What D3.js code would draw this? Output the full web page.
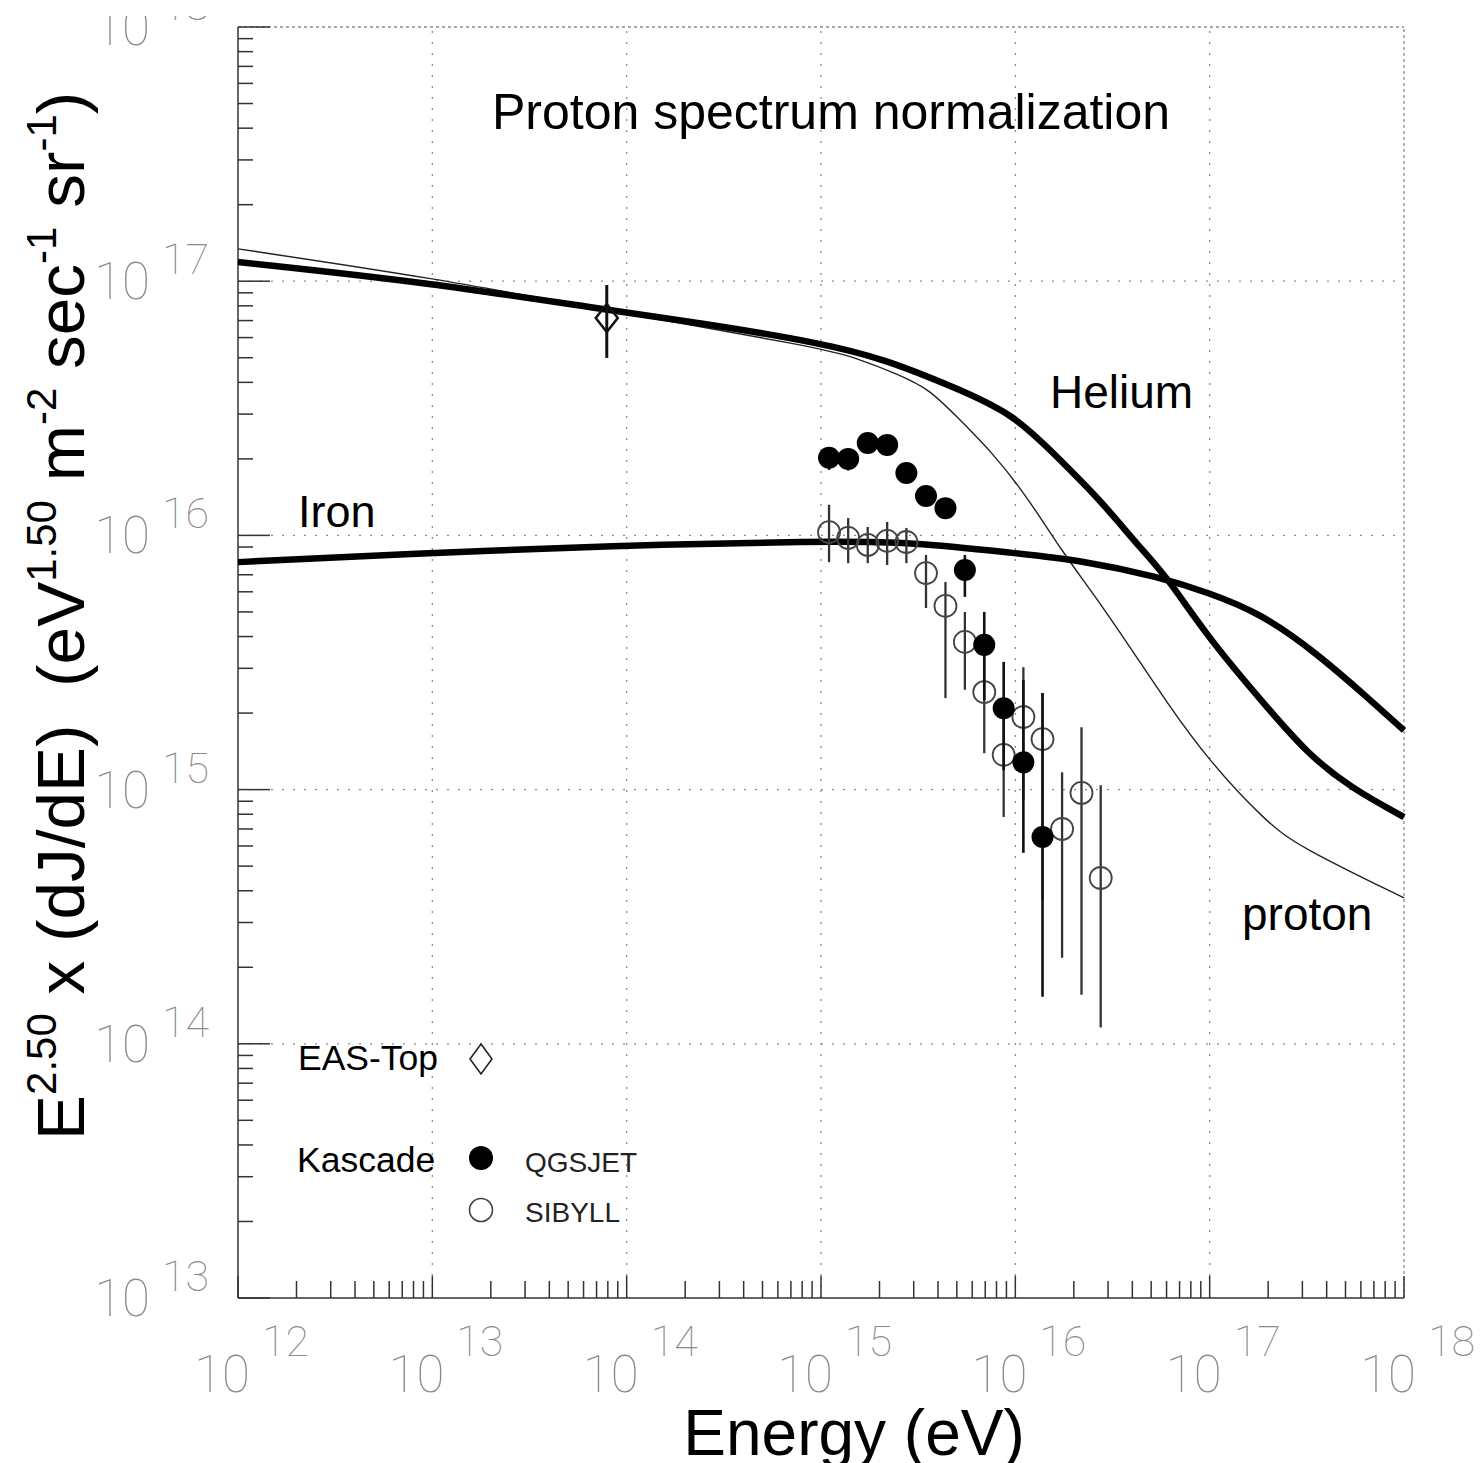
<!DOCTYPE html>
<html>
<head>
<meta charset="utf-8">
<script src="https://cdn.jsdelivr.net/npm/d3@7"></script>
<style>
body { margin: 0; background: #fff; }
svg { display: block; }
text { font-family: "Liberation Sans", Arial, sans-serif; white-space: pre; }
.tl { font-family: Roboto, "DejaVu Sans", sans-serif; font-weight: 100; fill: #8a8a8a; }
</style>
</head>
<body>
<svg id="chart" width="1482" height="1463"></svg>
<script>
// decades used for ticks, grid and labels
var xDecades = [1e12, 1e13, 1e14, 1e15, 1e16, 1e17, 1e18];
var yDecades = [1e13, 1e14, 1e15, 1e16, 1e17, 1e18];

// model curves, E (eV) vs E^2.5 dJ/dE
var protonE    = [1e12, 1e13, 7.8e13, 1e15, 1.46e15, 2.55e15, 3.64e15, 4.78e15, 7.67e15, 1.15e16, 1.76e16, 2.51e16, 3.89e16, 6.04e16, 9.8e16, 1.97e17, 2.92e17, 1e18];
var protonFlux = [1.34e17, 1.03e17, 7.71e16, 5.46e16, 5.04e16, 4.28e16, 3.73e16, 3.03e16, 2.11e16, 1.42e16, 8.53e15, 5.93e15, 3.64e15, 2.19e15, 1.31e15, 7.4e14, 5.94e14, 3.75e14];

var heliumE    = [1e12, 1e13, 7.8e13, 2.38e14, 1e15, 2.19e15, 4.78e15, 9.72e15, 1.7e16, 2.73e16, 4.39e16, 6.04e16, 1e17, 1.97e17, 3.17e17, 5.27e17, 1e18];
var heliumFlux = [1.19e17, 9.84e16, 7.71e16, 6.86e16, 5.72e16, 4.9e16, 3.84e16, 3.03e16, 1.98e16, 1.38e16, 8.92e15, 6.86e15, 3.88e15, 2.11e15, 1.39e15, 1.02e15, 7.8e14];

var ironE    = [1e12, 1e13, 7.8e13, 1e15, 2.97e15, 9.72e15, 2.15e16, 5.55e16, 1e17, 1.82e17, 3.56e17, 6.46e17, 1e18];
var ironFlux = [7.85e15, 8.53e15, 9.09e15, 9.51e15, 9.42e15, 8.53e15, 8.0e15, 6.86e15, 5.93e15, 4.95e15, 3.44e15, 2.31e15, 1.71e15];

// EAS-Top point
var easE = [7.9e13];
var easFlux = [7.17e16];
var easHi = [9.66e16];
var easLo = [4.99e16];

// Kascade points
var kasE = [1.10e15, 1.38e15, 1.74e15, 2.19e15, 2.75e15, 3.47e15, 4.37e15, 5.50e15, 6.92e15, 8.71e15, 1.10e16, 1.38e16, 1.74e16, 2.19e16, 2.75e16];

var qgsFlux = [2.02e16, 2.00e16, 2.31e16, 2.27e16, 1.76e16, 1.43e16, 1.28e16, 7.31e15, 3.71e15, 2.09e15, 1.28e15, 6.51e14];
var qgsHi   = [2.17e16, 2.15e16, 2.48e16, 2.44e16, 1.89e16, 1.54e16, 1.38e16, 8.38e15, 5.00e15, 3.18e15, 2.70e15, 2.40e15];
var qgsLo   = [1.81e16, 1.80e16, 2.11e16, 2.07e16, 1.64e16, 1.33e16, 1.19e16, 5.73e15, 2.25e15, 1.19e15, 5.64e14, 1.53e14];

var sibFlux = [1.03e16, 9.77e15, 9.17e15, 9.51e15, 9.42e15, 7.11e15, 5.28e15, 3.81e15, 2.42e15, 1.37e15, 1.93e15, 1.58e15, 7.00e14, 9.70e14, 4.49e14];
var sibHi   = [1.32e16, 1.17e16, 1.08e16, 1.13e16, 1.07e16, 8.38e15, 6.56e15, 5.00e15, 3.88e15, 2.25e15, 3.03e15, 2.40e15, 1.17e15, 1.76e15, 1.04e15];
var sibLo   = [7.85e15, 7.78e15, 7.78e15, 7.65e15, 7.78e15, 5.18e15, 2.29e15, 2.47e15, 1.39e15, 7.80e14, 9.10e14, 3.68e14, 2.18e14, 1.56e14, 1.16e14];

var svg = d3.select("#chart");

var x = d3.scaleLog().domain([1e12, 1e18]).range([238, 1404]);
var y = d3.scaleLog().domain([1e13, 1e18]).range([1298, 27]);

var x0 = x.range()[0], x1 = x.range()[1];
var y0 = y.range()[0], y1 = y.range()[1];

// grid
var grid = svg.append("g").attr("stroke", "#8c8c8c").attr("stroke-width", 1.3);
grid.selectAll(".gx").data(xDecades.slice(1, -1)).enter().append("line")
    .attr("x1", d => x(d)).attr("x2", d => x(d))
    .attr("y1", y0).attr("y2", y1)
    .attr("stroke-dasharray", "2,9");
grid.selectAll(".gy").data(yDecades.slice(1, -1)).enter().append("line")
    .attr("y1", d => y(d)).attr("y2", d => y(d))
    .attr("x1", x0).attr("x2", x1)
    .attr("stroke-dasharray", "2,9");
// top and right border
grid.append("line").attr("x1", x0).attr("x2", x1).attr("y1", y1).attr("y2", y1).attr("stroke-dasharray", "3,3");
grid.append("line").attr("x1", x1).attr("x2", x1).attr("y1", y0).attr("y2", y1).attr("stroke-dasharray", "3,3");

// axes lines and ticks
var ax = svg.append("g").attr("stroke", "#333").attr("stroke-width", 1.5);
ax.append("line").attr("x1", x0).attr("x2", x0).attr("y1", y0).attr("y2", y1);
ax.append("line").attr("x1", x0).attr("x2", x1).attr("y1", y0).attr("y2", y0);

var yMinor = [], xMinor = [];
yDecades.slice(0, -1).forEach(d => { for (var k = 2; k < 10; k++) yMinor.push(d * k); });
xDecades.slice(0, -1).forEach(d => { for (var k = 2; k < 10; k++) xMinor.push(d * k); });

ax.selectAll(".ym").data(yMinor).enter().append("line")
    .attr("x1", x0).attr("x2", x0 + 15)
    .attr("y1", d => y(d)).attr("y2", d => y(d));
ax.selectAll(".yM").data(yDecades).enter().append("line")
    .attr("x1", x0).attr("x2", x0 + 32)
    .attr("y1", d => y(d)).attr("y2", d => y(d));
ax.selectAll(".xm").data(xMinor).enter().append("line")
    .attr("y1", y0).attr("y2", y0 - 17)
    .attr("x1", d => x(d)).attr("x2", d => x(d));
ax.selectAll(".xM").data(xDecades).enter().append("line")
    .attr("y1", y0).attr("y2", y0 - 22)
    .attr("x1", d => x(d)).attr("x2", d => x(d));

// tick labels 10^n
var ylab = svg.append("g");
yDecades.forEach(function(d) {
    var n = Math.round(Math.log10(d));
    ylab.append("text").attr("class", "tl").attr("x", x0 - 88).attr("y", y(d) + 18)
        .attr("text-anchor", "end").style("font-size", "51px").text("10");
    ylab.append("text").attr("class", "tl").attr("x", x0 - 76).attr("y", y(d) - 7)
        .style("font-size", "43px").text(n);
});
var xlab = svg.append("g");
xDecades.forEach(function(d) {
    var n = Math.round(Math.log10(d));
    xlab.append("text").attr("class", "tl").attr("x", x(d) + 12).attr("y", y0 + 94)
        .attr("text-anchor", "end").style("font-size", "51px").text("10");
    xlab.append("text").attr("class", "tl").attr("x", x(d) + 24).attr("y", y0 + 58)
        .style("font-size", "43px").text(n);
});

// curves
var line = d3.line()
    .x(d => x(d[0]))
    .y(d => y(d[1]))
    .curve(d3.curveBasis);

svg.append("path").datum(d3.zip(protonE, protonFlux))
    .attr("d", line).attr("fill", "none").attr("stroke", "#222").attr("stroke-width", 1.4);
svg.append("path").datum(d3.zip(heliumE, heliumFlux))
    .attr("d", line).attr("fill", "none").attr("stroke", "#000").attr("stroke-width", 6.5);
svg.append("path").datum(d3.zip(ironE, ironFlux))
    .attr("d", line).attr("fill", "none").attr("stroke", "#000").attr("stroke-width", 6.5);

// EAS-Top
var eas = d3.zip(easE, easFlux, easHi, easLo);
svg.selectAll(".easbar").data(eas).enter().append("line")
    .attr("x1", d => x(d[0])).attr("x2", d => x(d[0]))
    .attr("y1", d => y(d[2])).attr("y2", d => y(d[3]))
    .attr("stroke", "#111").attr("stroke-width", 3);
var diamond = "M0,-14L11,0L0,14L-11,0Z";
svg.selectAll(".easpt").data(eas).enter().append("path")
    .attr("d", diamond)
    .attr("transform", d => `translate(${x(d[0])},${y(d[1])})`)
    .attr("fill", "none").attr("stroke", "#111").attr("stroke-width", 2.5);

// Kascade SIBYLL (open)
var sib = d3.zip(kasE, sibFlux, sibHi, sibLo);
svg.selectAll(".sibbar").data(sib).enter().append("line")
    .attr("x1", d => x(d[0])).attr("x2", d => x(d[0]))
    .attr("y1", d => y(d[2])).attr("y2", d => y(d[3]))
    .attr("stroke", "#333").attr("stroke-width", 2.3);
svg.selectAll(".sibpt").data(sib).enter().append("circle")
    .attr("cx", d => x(d[0])).attr("cy", d => y(d[1])).attr("r", 11)
    .attr("fill", "none").attr("stroke", "#444").attr("stroke-width", 1.8);

// Kascade QGSJET (filled)
var qgs = d3.zip(kasE.slice(0, qgsFlux.length), qgsFlux, qgsHi, qgsLo);
svg.selectAll(".qgsbar").data(qgs).enter().append("line")
    .attr("x1", d => x(d[0])).attr("x2", d => x(d[0]))
    .attr("y1", d => y(d[2])).attr("y2", d => y(d[3]))
    .attr("stroke", "#111").attr("stroke-width", 2.6);
svg.selectAll(".qgspt").data(qgs).enter().append("circle")
    .attr("cx", d => x(d[0])).attr("cy", d => y(d[1])).attr("r", 11)
    .attr("fill", "#000");

// curve labels and title
svg.append("text").attr("x", 492).attr("y", 129).style("font-size", "50px").text("Proton spectrum normalization");
svg.append("text").attr("x", 1050).attr("y", 408).style("font-size", "46px").text("Helium");
svg.append("text").attr("x", 298).attr("y", 527).style("font-size", "45px").text("Iron");
svg.append("text").attr("x", 1242).attr("y", 930).style("font-size", "46px").text("proton");

// legend
svg.append("text").attr("x", 298).attr("y", 1070).style("font-size", "35.5px").text("EAS-Top");
svg.append("path").attr("d", "M0,-15L11,0L0,15L-11,0Z").attr("transform", "translate(481,1059)")
    .attr("fill", "none").attr("stroke", "#222").attr("stroke-width", 1.6);
svg.append("text").attr("x", 297).attr("y", 1172).style("font-size", "35.5px").text("Kascade");
svg.append("circle").attr("cx", 481).attr("cy", 1158).attr("r", 12).attr("fill", "#000");
svg.append("text").attr("x", 525).attr("y", 1172).style("font-size", "28px").style("fill", "#222").text("QGSJET");
svg.append("circle").attr("cx", 481).attr("cy", 1210).attr("r", 11.5).attr("fill", "none").attr("stroke", "#444").attr("stroke-width", 1.6);
svg.append("text").attr("x", 525).attr("y", 1222).style("font-size", "28px").style("fill", "#222").text("SIBYLL");

// axis titles
svg.append("text").attr("x", 854).attr("y", 1455).attr("text-anchor", "middle")
    .style("font-size", "64px").text("Energy (eV)");

var yt = svg.append("text").attr("transform", "translate(84,1140) rotate(-90)").style("font-size", "67.5px");
var parts = [["E", 0], ["2.50", 1], [" x (dJ/dE)  (eV", 0], ["1.50", 1], [" m", 0], ["-2", 1],
             [" sec", 0], ["-1", 1], [" sr", 0], ["-1", 1], [")", 0]];
var prev = 0;
parts.forEach(function(p) {
    var shift = p[1] ? -28 : 0;
    yt.append("tspan").attr("dy", shift - prev)
        .style("font-size", p[1] ? "42px" : "67.5px").text(p[0]);
    prev = shift;
});

// the original picture is cut off at the top
svg.append("rect").attr("x", 0).attr("y", 0).attr("width", 1482).attr("height", 16).attr("fill", "#fff");
</script>
</body>
</html>
